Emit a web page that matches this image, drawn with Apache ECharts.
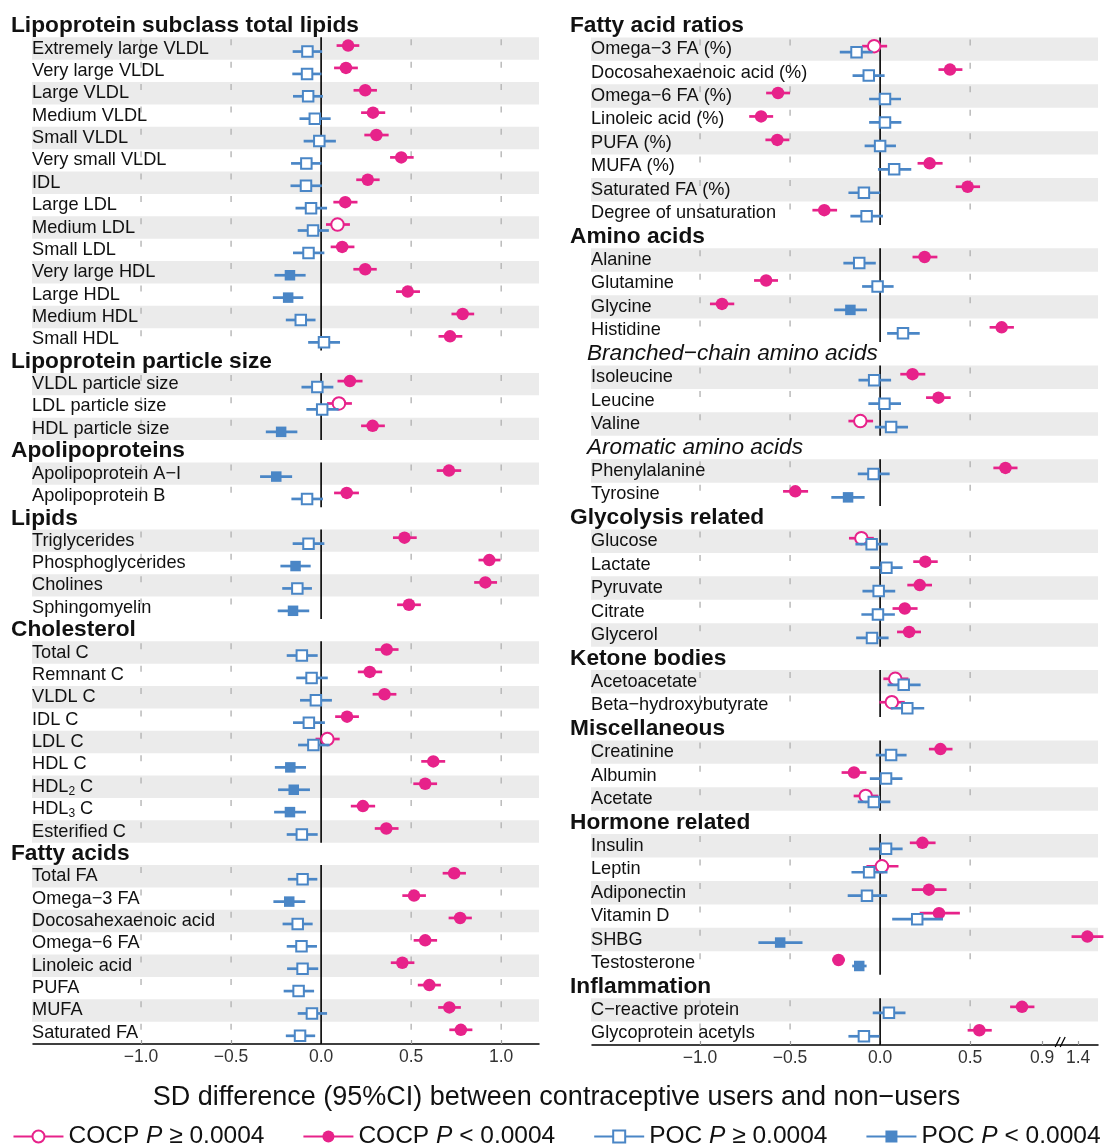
<!DOCTYPE html>
<html><head><meta charset="utf-8">
<script src="https://cdn.jsdelivr.net/npm/echarts@6/dist/echarts.min.js"></script>
<style>html,body{margin:0;padding:0;background:#fff}#c{width:1113px;height:1148px}</style>
</head><body><div id="c"></div>
<script>
// ---------- rows ('#' = bold section header, '~' = italic sub header) ----------
const leftRows = [
 '#Lipoprotein subclass total lipids',
 'Extremely large VLDL','Very large VLDL','Large VLDL','Medium VLDL','Small VLDL','Very small VLDL','IDL',
 'Large LDL','Medium LDL','Small LDL','Very large HDL','Large HDL','Medium HDL','Small HDL',
 '#Lipoprotein particle size',
 'VLDL particle size','LDL particle size','HDL particle size',
 '#Apolipoproteins',
 'Apolipoprotein A−I','Apolipoprotein B',
 '#Lipids',
 'Triglycerides','Phosphoglycerides','Cholines','Sphingomyelin',
 '#Cholesterol',
 'Total C','Remnant C','VLDL C','IDL C','LDL C','HDL C','HDL₂ C','HDL₃ C','Esterified C',
 '#Fatty acids',
 'Total FA','Omega−3 FA','Docosahexaenoic acid','Omega−6 FA','Linoleic acid','PUFA','MUFA','Saturated FA'
];
const rightRows = [
 '#Fatty acid ratios',
 'Omega−3 FA (%)','Docosahexaenoic acid (%)','Omega−6 FA (%)','Linoleic acid (%)','PUFA (%)','MUFA (%)','Saturated FA (%)','Degree of unsaturation',
 '#Amino acids',
 'Alanine','Glutamine','Glycine','Histidine',
 '~Branched−chain amino acids',
 'Isoleucine','Leucine','Valine',
 '~Aromatic amino acids',
 'Phenylalanine','Tyrosine',
 '#Glycolysis related',
 'Glucose','Lactate','Pyruvate','Citrate','Glycerol',
 '#Ketone bodies',
 'Acetoacetate','Beta−hydroxybutyrate',
 '#Miscellaneous',
 'Creatinine','Albumin','Acetate',
 '#Hormone related',
 'Insulin','Leptin','Adiponectin','Vitamin D','SHBG','Testosterone',
 '#Inflammation',
 'C−reactive protein','Glycoprotein acetyls'
];

// ---------- left panel values (item rows only, in order) ----------
const leftCocpEst  = [0.150,0.138,0.245,0.288,0.307,0.445,0.259,0.134,0.091,0.117,0.245,0.481,0.786,0.716, 0.160,0.099,0.286, 0.710,0.142, 0.463,0.934,0.912,0.488, 0.364,0.270,0.352,0.144,0.035,0.623,0.578,0.232,0.362, 0.739,0.516,0.772,0.578,0.451,0.601,0.712,0.776];
const leftCocpLow  = [0.086,0.072,0.180,0.222,0.240,0.383,0.195,0.068,0.027,0.053,0.179,0.416,0.724,0.652, 0.091,0.033,0.222, 0.642,0.072, 0.399,0.874,0.850,0.422, 0.300,0.204,0.286,0.078,-0.031,0.556,0.512,0.165,0.298, 0.675,0.451,0.708,0.514,0.387,0.537,0.650,0.712];
const leftCocpHigh = [0.212,0.204,0.310,0.356,0.375,0.514,0.325,0.202,0.160,0.185,0.309,0.549,0.850,0.784, 0.230,0.171,0.354, 0.778,0.210, 0.531,0.996,0.977,0.554, 0.430,0.339,0.418,0.210,0.103,0.689,0.644,0.300,0.430, 0.804,0.582,0.837,0.644,0.518,0.665,0.776,0.840];
const leftCocpSig  = [1,1,1,1,1,1,1,1,0,1,1,1,1,1, 1,0,1, 1,1, 1,1,1,1, 1,1,1,1,0,1,1,1,1, 1,1,1,1,1,1,1,1];
const leftPocEst   = [-0.076,-0.078,-0.072,-0.035,-0.010,-0.082,-0.084,-0.056,-0.045,-0.070,-0.173,-0.183,-0.113,0.016, -0.021,0.006,-0.222, -0.249,-0.078, -0.070,-0.142,-0.132,-0.156, -0.107,-0.053,-0.029,-0.068,-0.043,-0.171,-0.152,-0.173,-0.107, -0.103,-0.177,-0.130,-0.109,-0.103,-0.125,-0.051,-0.117];
const leftPocLow   = [-0.158,-0.160,-0.156,-0.120,-0.097,-0.167,-0.170,-0.142,-0.130,-0.156,-0.259,-0.268,-0.196,-0.072, -0.109,-0.082,-0.307, -0.339,-0.165, -0.158,-0.226,-0.216,-0.241, -0.191,-0.138,-0.117,-0.156,-0.128,-0.257,-0.239,-0.261,-0.191, -0.185,-0.265,-0.214,-0.191,-0.189,-0.208,-0.130,-0.196];
const leftPocHigh  = [0.006,0.002,0.010,0.053,0.082,0.002,0.004,0.033,0.043,0.018,-0.086,-0.099,-0.031,0.105, 0.068,0.097,-0.132, -0.161,0.010, 0.018,-0.058,-0.051,-0.066, -0.019,0.037,0.060,0.021,0.047,-0.084,-0.062,-0.084,-0.019, -0.021,-0.088,-0.047,-0.023,-0.016,-0.039,0.033,-0.033];
const leftPocSig   = [0,0,0,0,0,0,0,0,0,0,1,1,0,0, 0,0,1, 1,0, 0,1,0,1, 0,0,0,0,0,1,1,1,0, 0,1,0,0,0,0,0,0];

// ---------- right panel values ----------
const rightCocpEst  = [-0.033,0.388,-0.567,-0.661,-0.571,0.275,0.486,-0.310, 0.247,-0.633,-0.878,0.675, 0.180,0.324,-0.110, 0.696,-0.471, -0.104,0.251,0.220,0.137,0.161, 0.084,0.065, 0.335,-0.145,-0.080, 0.235,0.010,0.271,0.327,1.451,-0.231, 0.788,0.551];
const rightCocpLow  = [-0.100,0.324,-0.633,-0.727,-0.637,0.208,0.420,-0.376, 0.180,-0.700,-0.945,0.608, 0.112,0.255,-0.176, 0.629,-0.539, -0.173,0.184,0.151,0.069,0.094, 0.018,-0.004, 0.271,-0.214,-0.147, 0.165,-0.076,0.176,0.220,1.363,-0.265, 0.722,0.486];
const rightCocpHigh = [0.039,0.457,-0.500,-0.594,-0.504,0.347,0.555,-0.239, 0.318,-0.567,-0.810,0.743, 0.251,0.392,-0.039, 0.763,-0.400, -0.035,0.320,0.288,0.208,0.227, 0.157,0.137, 0.402,-0.076,-0.010, 0.308,0.102,0.369,0.443,1.540,-0.196, 0.857,0.620];
const rightCocpSig  = [0,1,1,1,1,1,1,1, 1,1,1,1, 1,1,0, 1,1, 0,1,1,1,1, 0,0, 1,1,0, 1,0,1,1,1,1, 1,1];
const rightPocEst   = [-0.131,-0.063,0.027,0.027,0.000,0.078,-0.090,-0.075, -0.116,-0.014,-0.165,0.127, -0.033,0.024,0.061, -0.037,-0.178, -0.047,0.035,-0.008,-0.012,-0.045, 0.131,0.151, 0.061,0.033,-0.035, 0.033,-0.061,-0.073,0.206,-0.555,-0.116, 0.049,-0.090];
const rightPocLow   = [-0.224,-0.153,-0.061,-0.061,-0.086,-0.012,-0.176,-0.165, -0.204,-0.100,-0.255,0.039, -0.120,-0.065,-0.029, -0.124,-0.271, -0.137,-0.055,-0.098,-0.104,-0.133, 0.041,0.059, -0.024,-0.057,-0.124, -0.061,-0.159,-0.180,0.067,-0.676,-0.155, -0.041,-0.176];
const rightPocHigh  = [-0.041,0.025,0.116,0.118,0.088,0.173,0.000,0.016, -0.024,0.075,-0.073,0.220, 0.061,0.116,0.155, 0.053,-0.086, 0.043,0.125,0.084,0.082,0.047, 0.225,0.245, 0.147,0.124,0.057, 0.125,0.041,0.039,0.349,-0.431,-0.075, 0.141,-0.004];
const rightPocSig   = [0,0,0,0,0,0,0,0, 0,0,1,0, 0,0,0, 0,1, 0,0,0,0,0, 0,0, 0,0,0, 0,0,0,0,1,1, 0,0];

// ---------- axes ----------
const leftTicks = [-1, -0.5, 0, 0.5, 1];
const leftGridLines = [-1, -0.5, 0.5, 1];
const rightTicks = [-1, -0.5, 0, 0.5, 0.9, 1.4];
const rightGridLines = [-1, -0.5, 0.5];
const rightBreak = 1.0;      // axis break position
const rightBreakShift = 0.3; // values beyond the break are drawn this much to the left
const legendNames = ['COCP P ≥ 0.0004', 'COCP P < 0.0004', 'POC P ≥ 0.0004', 'POC P < 0.0004'];
const xTitle = 'SD difference (95%CI) between contraceptive users and non−users';

// ---------- styling ----------
const FONT = 'Liberation Sans, Arial, Helvetica, sans-serif';
const PINK = '#e7228a', BLUE = '#4a86c6', STRIPE = '#ebebeb';
const X_MIN = -1.6, X_MAX = 1.21;

function kind(r) { return r[0] === '#' ? 'head' : (r[0] === '~' ? 'sub' : 'item'); }
const identity = v => v;
const rightFwd = v => (v > rightBreak ? v - rightBreakShift : v);
const rightInv = v => (v > rightBreak ? v + rightBreakShift : v);
const fmt = v => (Math.abs(v) < 1e-9 ? '0.0' : v.toFixed(1).replace('-', '−'));

function labelStyle(r) {
  const k = kind(r);
  if (k === 'head') return { text: r.slice(1), fontSize: 22.7, fontWeight: 'bold', fontStyle: 'normal', dx: -22 };
  if (k === 'sub') return { text: r.slice(1), fontSize: 22.6, fontWeight: 'normal', fontStyle: 'italic', dx: -5 };
  return { text: r, fontSize: 18.2, fontWeight: 'normal', fontStyle: 'normal', dx: -1 };
}

function buildPanel(p, rows, c, q, gridLines, tf) {
  const itemRows = [], stripes = [], sections = [];
  let k = 0;
  rows.forEach((r, i) => {
    if (kind(r) !== 'item') { k = 0; return; }
    itemRows.push(i);
    if (k % 2 === 0) stripes.push([0, i]);
    if (k === 0) sections.push([0, i, i]); else sections[sections.length - 1][2] = i;
    k++;
  });
  const series = [];
  // stripes
  series.push({
    type: 'custom', xAxisIndex: p, yAxisIndex: p, z: 1, silent: true, data: stripes,
    renderItem: (params, api) => {
      const cs = params.coordSys;
      const a = api.coord([0, api.value(1) - 0.5]), b = api.coord([0, api.value(1) + 0.5]);
      return { type: 'rect', shape: { x: cs.x - 1, y: a[1], width: cs.width + 1, height: b[1] - a[1] }, style: { fill: STRIPE } };
    }
  });
  // dashed reference lines and zero line per section
  series.push({
    type: 'custom', xAxisIndex: p, yAxisIndex: p, z: 2, silent: true, data: sections,
    renderItem: (params, api) => {
      const s = api.value(1), e = api.value(2);
      const rowH = api.size([0, 1])[1];
      const children = gridLines.map(v => {
        const a = api.coord([v, s - 0.5]), b = api.coord([v, e + 0.5]);
        return { type: 'line', shape: { x1: a[0], y1: a[1], x2: b[0], y2: b[1] },
          style: { stroke: '#b0b0b0', lineWidth: 1.3, lineDash: [6, rowH - 6], lineDashOffset: -2 } };
      });
      const a = api.coord([0, s - 0.5]), b = api.coord([0, e + 0.5]);
      children.push({ type: 'line', shape: { x1: a[0], y1: a[1], x2: b[0], y2: b[1] }, style: { stroke: '#000', lineWidth: 1.6 } });
      return { type: 'group', children };
    }
  });
  // row labels
  series.push({
    type: 'custom', xAxisIndex: p, yAxisIndex: p, z: 3, silent: true, data: rows.map((r, i) => [0, i]),
    renderItem: (params, api) => {
      const r = rows[params.dataIndex];
      const st = labelStyle(r);
      const pt = api.coord([0, api.value(1)]);
      const base = { fontSize: st.fontSize, fontFamily: FONT, fontWeight: st.fontWeight, fontStyle: st.fontStyle, fill: '#111', lineHeight: 22 };
      let text = st.text, rich = null;
      if (/[₂₃]/.test(text)) {
        text = text.replace(/([^₂₃]+)([₂₃])(.*)/, (m, a, d, b) => '{n|' + a + '}{s|' + (d === '₂' ? '2' : '3') + '}{n|' + b + '}');
        rich = { n: Object.assign({}, base), s: Object.assign({}, base, { fontSize: 12, lineHeight: 11, verticalAlign: 'bottom' }) };
      }
      const style = Object.assign({}, base, { text, align: 'left', verticalAlign: 'middle' });
      if (rich) style.rich = rich;
      return { type: 'text', x: params.coordSys.x + st.dx, y: pt[1], style };
    }
  });
  // CI lines + markers
  const groups = [
    { e: c.est, lo: c.lo, hi: c.hi, sig: c.sig, color: PINK, dy: -3, sym: 'circle', size: 12.5, names: [legendNames[0], legendNames[1]], z: 5 },
    { e: q.est, lo: q.lo, hi: q.hi, sig: q.sig, color: BLUE, dy: 3, sym: 'rect', size: 10.5, names: [legendNames[2], legendNames[3]], z: 7 }
  ];
  groups.forEach(g => {
    series.push({
      type: 'custom', xAxisIndex: p, yAxisIndex: p, z: g.z, silent: true,
      data: g.lo.map((l, j) => [itemRows[j], tf(l), tf(g.hi[j])]),
      encode: { x: [1, 2], y: 0 },
      renderItem: (params, api) => {
        const a = api.coord([api.value(1), api.value(0)]), b = api.coord([api.value(2), api.value(0)]);
        return { type: 'line', shape: { x1: a[0], y1: a[1] + g.dy, x2: b[0], y2: b[1] + g.dy }, style: { stroke: g.color, lineWidth: 2.7 } };
      }
    });
    [0, 1].forEach(sigFlag => {
      const pts = [];
      g.e.forEach((v, j) => { if (g.sig[j] === sigFlag) pts.push([tf(v), itemRows[j]]); });
      series.push({
        type: 'line', name: g.names[sigFlag], xAxisIndex: p, yAxisIndex: p, z: g.z + 1, silent: true,
        data: pts, symbol: g.sym, symbolSize: g.size, symbolOffset: [0, g.dy], showSymbol: true, clip: false,
        lineStyle: { color: g.color, width: 2, opacity: 0 },
        itemStyle: sigFlag ? { color: g.color, borderColor: g.color, borderWidth: 0 } : { color: '#fff', borderColor: g.color, borderWidth: 2 },
        emphasis: { disabled: true }, animation: false
      });
    });
  });
  return series;
}

const chart = echarts.init(document.getElementById('c'), null, { renderer: 'canvas' });
const series = [].concat(
  buildPanel(0, leftRows,
    { est: leftCocpEst, lo: leftCocpLow, hi: leftCocpHigh, sig: leftCocpSig },
    { est: leftPocEst, lo: leftPocLow, hi: leftPocHigh, sig: leftPocSig }, leftGridLines, identity),
  buildPanel(1, rightRows,
    { est: rightCocpEst, lo: rightCocpLow, hi: rightCocpHigh, sig: rightCocpSig },
    { est: rightPocEst, lo: rightPocLow, hi: rightPocHigh, sig: rightPocSig }, rightGridLines, rightFwd)
);
// axis break mark on right panel
series.push({
  type: 'custom', xAxisIndex: 1, yAxisIndex: 1, z: 20, silent: true, data: [[rightFwd(rightBreak), 0]],
  renderItem: (params, api) => {
    const x = api.coord([api.value(0), 0])[0];
    const y = params.coordSys.y + params.coordSys.height;
    const st = { stroke: '#000', lineWidth: 1.3 };
    return { type: 'group', children: [
      { type: 'line', shape: { x1: x - 5, y1: y + 2, x2: x, y2: y - 8 }, style: st },
      { type: 'line', shape: { x1: x, y1: y + 2, x2: x + 5, y2: y - 8 }, style: st }
    ] };
  }
});

function xAxis(p, ticks, tf, inv) {
  const vals = ticks.map(tf);
  return {
    gridIndex: p, type: 'value', min: X_MIN, max: X_MAX,
    axisLine: { show: true, onZero: false, lineStyle: { color: '#000', width: 1.5 } },
    axisTick: { show: true, inside: true, length: 4, customValues: vals, lineStyle: { color: '#999', width: 1.2 } },
    axisLabel: { customValues: vals, formatter: v => fmt(inv(v)), fontSize: 17.5, color: '#333', margin: 4, fontFamily: FONT },
    splitLine: { show: false }
  };
}

chart.setOption({
  animation: false,
  textStyle: { fontFamily: FONT },
  title: { text: xTitle, left: 'center', top: 1079, textStyle: { fontSize: 27, fontWeight: 'normal', color: '#111', fontFamily: FONT } },
  legend: {
    data: legendNames, top: 1119, left: 'center', itemWidth: 50, itemHeight: 15, itemGap: 38, selectedMode: false,
    lineStyle: { opacity: 1, width: 2 },
    formatter: name => { const parts = name.split(' P '); return '{a|' + parts[0] + ' }{i|P}{a| ' + parts[1] + '}'; },
    textStyle: { fontSize: 24.5, color: '#111', fontFamily: FONT,
      rich: { a: { fontSize: 24.5, fontFamily: FONT, color: '#111' }, i: { fontSize: 24.5, fontFamily: FONT, fontStyle: 'italic', color: '#111' } } }
  },
  grid: [
    { left: 33, top: 15, width: 506, height: 1029 },
    { left: 592, top: 14, width: 506, height: 1031 }
  ],
  xAxis: [xAxis(0, leftTicks, identity, identity), xAxis(1, rightTicks, rightFwd, rightInv)],
  yAxis: [
    { gridIndex: 0, type: 'value', inverse: true, min: -0.5, max: leftRows.length - 0.5, show: false },
    { gridIndex: 1, type: 'value', inverse: true, min: -0.5, max: rightRows.length - 0.5, show: false }
  ],
  series
});
</script></body></html>
